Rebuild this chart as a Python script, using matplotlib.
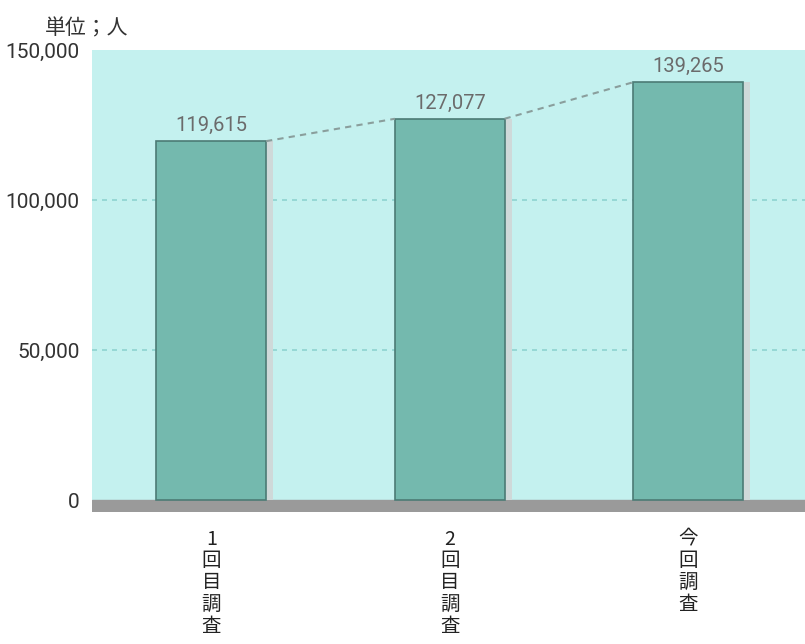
import numpy as np
import matplotlib.pyplot as plt

# dati
categorie = ['1回目調査', '2回目調査', '今回調査']
valori = [119615, 127077, 139265]
y_ticks = [0, 50000, 100000, 150000]
y_labels = ['0', '50,000', '100,000', '150,000']

plt.rcParams['font.family'] = ['Roboto', 'Noto Sans CJK JP']

fig = plt.figure(figsize=(8.05, 6.44), dpi=100)
ax = fig.add_axes([92/805, 1 - 512/644, 1 - 92/805, 462/644])

x = np.arange(len(categorie))
larghezza = 0.46

ax.set_facecolor('#c4f1ef')
ax.set_xlim(-0.5, 2.49)
ax.set_ylim(-4000, 150000)

# pavimento grigio
ax.axhspan(-4000, 0, color='#9a9a9a', zorder=1)

# griglia tratteggiata
for t in y_ticks[1:3]:
    ax.axhline(t, color='#8fd4d0', lw=1.2, ls=(0, (3, 3)), zorder=0.5)

# ombra delle barre
ax.bar(x + 0.03, valori, width=larghezza, color='#cfd9d9', zorder=1.5)
ax.bar(x, valori, width=larghezza, color='#74b9ae', edgecolor='#4c7b75',
       linewidth=1.2, zorder=2)

# linea tratteggiata che unisce le cime
for i in range(len(valori) - 1):
    ax.plot([x[i] + larghezza/2, x[i+1] - larghezza/2], [valori[i], valori[i+1]],
            color='#8a9e9c', lw=1.5, ls=(0, (3, 2.5)), zorder=2)

for xi, v in zip(x, valori):
    ax.text(xi, v + 2000, f'{v:,}', ha='center', va='bottom', fontsize=14.5,
            color='#6b6b6b', zorder=3)

ax.set_yticks(y_ticks)
ax.set_yticklabels(y_labels, fontsize=15, color='#333333')
ax.set_xticks(x)
ax.set_xticklabels(['\n'.join(c) for c in categorie], fontsize=14, color='#222222',
                   linespacing=1.05, va='top', family=['Noto Sans CJK JP'])
ax.tick_params(axis='y', length=0, pad=9)
ax.tick_params(axis='x', length=0, pad=12)
for s in ax.spines.values():
    s.set_visible(False)

fig.text(45/805, 1 - 28/644, '単位；人', fontsize=15, color='#333333', va='center',
         family=['Noto Sans CJK JP'])

plt.savefig('out.png', dpi=100)
